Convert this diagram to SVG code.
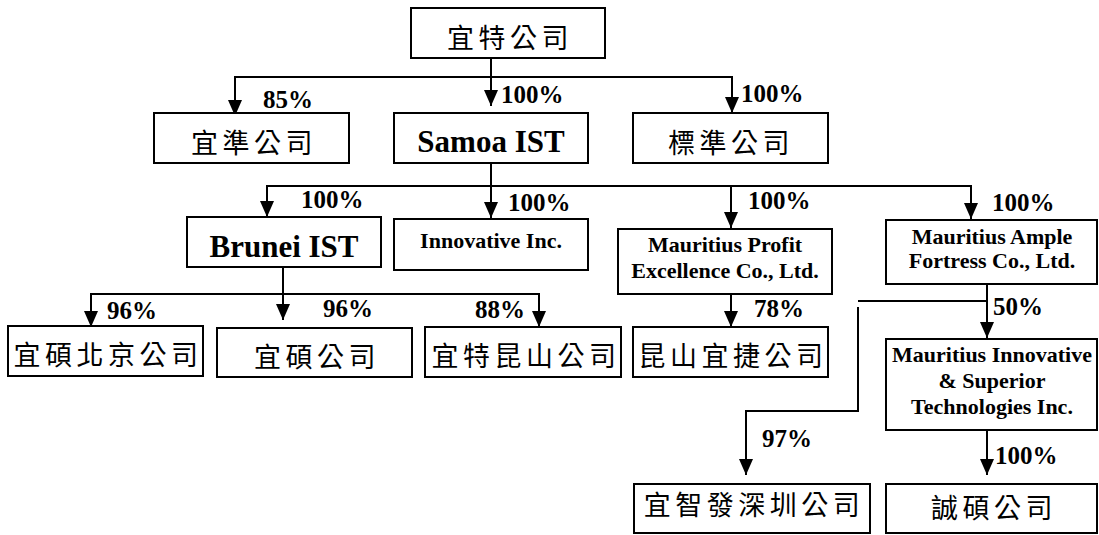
<svg xmlns="http://www.w3.org/2000/svg" width="1099" height="535" viewBox="0 0 1099 535">
<style>
.box{fill:#fff;stroke:#000;stroke-width:2}
.cjk{font-family:"Noto Sans CJK TC","Noto Sans CJK SC",sans-serif;font-size:27px;letter-spacing:4.5px;text-anchor:middle;fill:#000}
.big{font-family:"Liberation Serif","Times New Roman",serif;font-size:31px;font-weight:bold;text-anchor:middle;fill:#000}
.sm{font-family:"Liberation Serif","Times New Roman",serif;font-size:22px;font-weight:bold;text-anchor:middle;fill:#000}
.pct{font-family:"Liberation Serif","Times New Roman",serif;font-size:25px;font-weight:bold;fill:#000}
.ln{fill:none;stroke:#000;stroke-width:2}
.ar{fill:none;stroke:#000;stroke-width:2;marker-end:url(#arr)}
</style>
<defs>
<marker id="arr" markerUnits="userSpaceOnUse" markerWidth="16" markerHeight="14" refX="16" refY="7" orient="auto">
<path d="M0,0 L16,7 L0,14 z" fill="#000"/>
</marker>
</defs>
<rect width="1099" height="535" fill="#fff"/>
<g id="connectors">
<path class="ar" d="M491,58 V106"/>
<path class="ar" d="M491,77 H235 V116"/>
<path class="ar" d="M491,77 H732 V113"/>
<path class="ar" d="M491,163 V218"/>
<path class="ar" d="M491,186 H267 V217"/>
<path class="ar" d="M491,186 H731 V228"/>
<path class="ar" d="M731,186 H971 V219"/>
<path class="ar" d="M283,267 V320"/>
<path class="ar" d="M283,294 H91 V327"/>
<path class="ar" d="M283,294 H539 V327"/>
<path class="ar" d="M731,294 V327"/>
<path class="ar" d="M987,284 V338"/>
<path class="ln" d="M987,301 H858"/>
<path class="ar" d="M858,307 V411 H746 V475"/>
<path class="ar" d="M987,430 V475"/>
<text class="pct" x="263" y="108">85%</text>
<text class="pct" x="501" y="103">100%</text>
<text class="pct" x="741" y="102">100%</text>
<text class="pct" x="301" y="208">100%</text>
<text class="pct" x="508" y="211">100%</text>
<text class="pct" x="748" y="209">100%</text>
<text class="pct" x="992" y="211">100%</text>
<text class="pct" x="107" y="319">96%</text>
<text class="pct" x="323" y="317">96%</text>
<text class="pct" x="475" y="318">88%</text>
<text class="pct" x="754" y="317">78%</text>
<text class="pct" x="993" y="315">50%</text>
<text class="pct" x="762" y="447">97%</text>
<text class="pct" x="995" y="464">100%</text>
</g>
<g id="n-top"><rect class="box" x="411" y="8" width="194" height="50"/><text class="cjk" x="510" y="48">宜特公司</text></g>
<g id="n-yizhun"><rect class="box" x="154" y="113" width="195" height="50"/><text class="cjk" x="254" y="153">宜準公司</text></g>
<g id="n-samoa"><rect class="box" x="394" y="113" width="194" height="50"/><text class="big" x="491" y="152">Samoa IST</text></g>
<g id="n-biaozhun"><rect class="box" x="633" y="113" width="195" height="50"/><text class="cjk" x="731" y="153">標準公司</text></g>
<g id="n-brunei"><rect class="box" x="187" y="217" width="194" height="50"/><text class="big" x="284" y="257">Brunei IST</text></g>
<g id="n-innovative"><rect class="box" x="394" y="219" width="194" height="51"/><text class="sm" x="491" y="248">Innovative Inc.</text></g>
<g id="n-profit"><rect class="box" x="618" y="229" width="214" height="65"/><text class="sm" x="725" y="252">Mauritius Profit</text><text class="sm" x="725" y="278">Excellence Co., Ltd.</text></g>
<g id="n-ample"><rect class="box" x="886" y="220" width="211" height="64"/><text class="sm" x="992" y="244">Mauritius Ample</text><text class="sm" x="992" y="268">Fortress Co., Ltd.</text></g>
<g id="n-beijing"><rect class="box" x="8" y="326" width="195" height="50"/><text class="cjk" x="108" y="365">宜碩北京公司</text></g>
<g id="n-yishuo"><rect class="box" x="217" y="328" width="195" height="49"/><text class="cjk" x="317" y="367">宜碩公司</text></g>
<g id="n-kunshan"><rect class="box" x="425" y="327" width="196" height="50"/><text class="cjk" x="526" y="366">宜特昆山公司</text></g>
<g id="n-kunshanyijie"><rect class="box" x="633" y="327" width="195" height="50"/><text class="cjk" x="733" y="366">昆山宜捷公司</text></g>
<g id="n-mist"><rect class="box" x="886" y="339" width="211" height="91"/><text class="sm" x="992" y="362">Mauritius Innovative</text><text class="sm" x="992" y="388">&amp; Superior</text><text class="sm" x="992" y="414">Technologies Inc.</text></g>
<g id="n-shenzhen"><rect class="box" x="634" y="484" width="236" height="49"/><text class="cjk" x="754" y="515">宜智發深圳公司</text></g>
<g id="n-chengshuo"><rect class="box" x="886" y="484" width="211" height="49"/><text class="cjk" x="994" y="518">誠碩公司</text></g>
</svg>
